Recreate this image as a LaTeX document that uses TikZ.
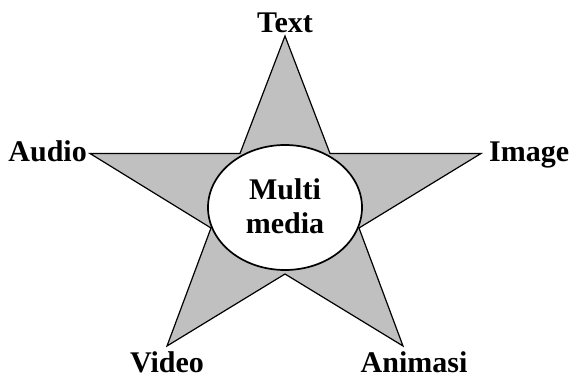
\documentclass[tikz,border=0pt]{standalone}
\usepackage{fontspec}
\setmainfont{Liberation Serif}
\usetikzlibrary{shapes.geometric}
\definecolor{stargray}{HTML}{C0C0C0}
\tikzset{
  lbl/.style={font=\bfseries\fontsize{30}{33}\selectfont, anchor=base, inner sep=0pt},
  starshape/.style={draw=black, fill=stargray, line width=1.2pt, line join=miter},
  hub/.style={draw=black, fill=white, line width=1.7pt, ellipse, minimum width=154pt, minimum height=125pt, inner sep=0pt}
}
\begin{document}
\begin{tikzpicture}[x=1pt,y=-1pt]
\useasboundingbox (0,0) rectangle (573,379);
% star
\coordinate (tT) at (285,36);
\coordinate (iTR) at (330,153.5);
\coordinate (tR) at (481,153.5);
\coordinate (iBR) at (359,228);
\coordinate (tBR) at (403,346);
\coordinate (iB) at (285,274);
\coordinate (tBL) at (167,346);
\coordinate (iBL) at (211,228);
\coordinate (tL) at (90,153.5);
\coordinate (iTL) at (240,153.5);
\draw[starshape] (tT) -- (iTR) -- (tR) -- (iBR) -- (tBR) -- (iB) -- (tBL) -- (iBL) -- (tL) -- (iTL) -- cycle;
% center
\node[hub] (mm) at (285,207.5) {};
\node[lbl] (multi) at (285,200) {Multi};
\node[lbl] (media) at (285,234) {media};
% labels
\node[lbl] (text) at (285,33) {Text};
\node[lbl, anchor=base east] (audio) at (87,162) {Audio};
\node[lbl, anchor=base west] (image) at (489,162) {Image};
\node[lbl] (video) at (167,372) {Video};
\node[lbl] (animasi) at (414,372) {Animasi};
\end{tikzpicture}
\end{document}
